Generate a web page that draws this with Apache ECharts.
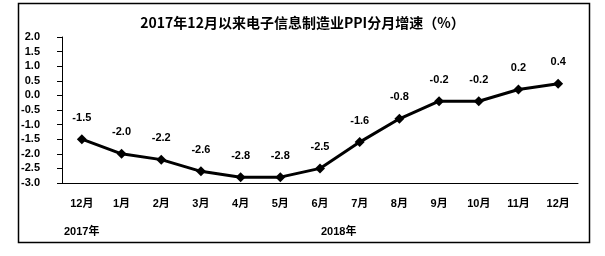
<!DOCTYPE html>
<html><head><meta charset="utf-8">
<script src="https://cdn.jsdelivr.net/npm/echarts@6/dist/echarts.min.js"></script>
<style>html,body{margin:0;padding:0;background:#fff}#c{width:605px;height:256px}</style>
</head><body><div id="c"></div>
<script>
var categories = ['12月','1月','2月','3月','4月','5月','6月','7月','8月','9月','10月','11月','12月'];
var values = [-1.5,-2.0,-2.2,-2.6,-2.8,-2.8,-2.5,-1.6,-0.8,-0.2,-0.2,0.2,0.4];
var yearLabels = ['2017年','2018年'];
var titleText = '2017年12月以来电子信息制造业PPI分月增速（%）';

var chart = echarts.init(document.getElementById('c'));
var font = '"Liberation Sans", Arial, "Noto Sans CJK SC", sans-serif';
chart.setOption({
  animation: false,
  title: {text: titleText, left: 'center', top: 11,
    textStyle: {fontSize: 14, fontWeight: 'bold', color: '#000', fontFamily: '"Noto Sans CJK SC", sans-serif'}},
  grid: {left: 62, right: 27, top: 37, bottom: 73},
  xAxis: {type: 'category', data: categories, boundaryGap: true,
    axisLine: {onZero: false, lineStyle: {color: '#000', width: 1}}, axisTick: {show: false},
    axisLabel: {color: '#000', fontSize: 11, fontWeight: 'bold', fontFamily: font, margin: 15}},
  yAxis: {type: 'value', min: -3, max: 2, interval: 0.5,
    axisLine: {show: true, lineStyle: {color: '#000', width: 1}},
    axisTick: {show: true, length: 5, lineStyle: {color: '#000'}},
    splitLine: {show: false},
    axisLabel: {color: '#000', fontSize: 11, fontWeight: 'bold', fontFamily: font, margin: 22,
      formatter: function(v){ return v.toFixed(1); }}},
  series: [{type: 'line', data: values, symbol: 'diamond', symbolSize: 10,
    lineStyle: {color: '#000', width: 3}, itemStyle: {color: '#000'},
    label: {show: true, position: 'top', distance: 11, color: '#000', fontSize: 11, fontWeight: 'bold', fontFamily: font,
      formatter: function(p){ return p.value.toFixed(1); }}}],
  graphic: [
    {type: 'rect', shape: {x: 18.5, y: 3.5, width: 571, height: 239}, style: {fill: null, stroke: '#000', lineWidth: 1.5}, silent: true},
    {type: 'text', left: 64, top: 226, style: {text: yearLabels[0], fill: '#000', font: 'bold 11px ' + font}},
    {type: 'text', left: 321, top: 226, style: {text: yearLabels[1], fill: '#000', font: 'bold 11px ' + font}}
  ]
});
</script></body></html>
